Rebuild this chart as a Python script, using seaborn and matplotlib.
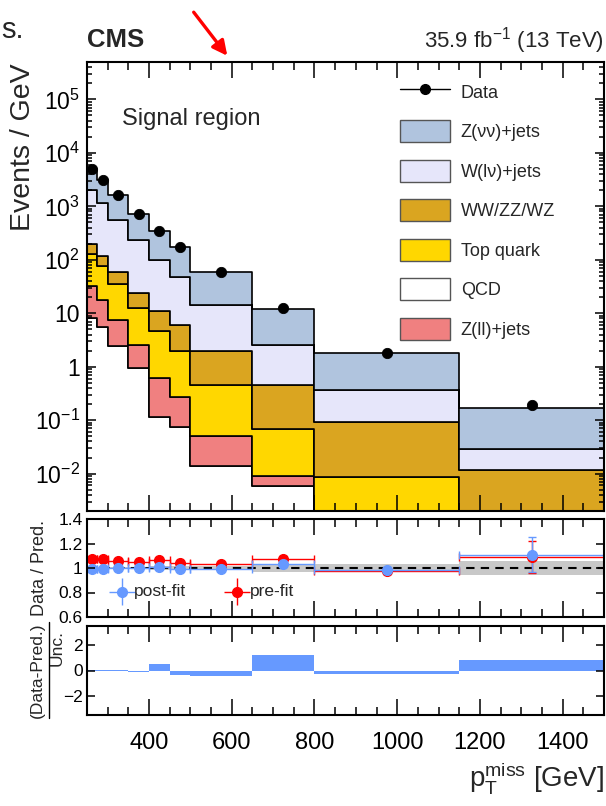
import numpy as np
import pandas as pd
import matplotlib
matplotlib.use("Agg")
import matplotlib.pyplot as plt
import seaborn as sns
from matplotlib.lines import Line2D
from matplotlib.patches import Patch
from matplotlib.transforms import blended_transform_factory as blend
from matplotlib.ticker import FixedLocator, FixedFormatter, MultipleLocator, NullLocator

# ── data ─────────────────────────────────────────────────────────────────────
edges = [250, 275, 300, 350, 400, 450, 500, 650, 800, 1150, 1500]

data_obs = [5070, 3160, 1660, 730, 340, 170, 58, 12.3, 1.8, 0.19]

# per-process yields (Events / GeV), stacked bottom -> top: QCD, Z(ll), top, VV, W, Z
qcd = [8.1, 5.5, 2.4, 0.95, 0.117, 0.075, 0.0138, 0.0059, 0.0008, 0.0003]
zll = [23.9, 12.5, 5.2, 1.55, 0.51, 0.195, 0.036, 0.0032, 0.0004, 0.0002]
top = [98, 59, 27.4, 10.3, 4.07, 1.68, 0.40, 0.059, 0.0075, 0.0004]
diboson = [65, 43, 24, 11.2, 6.3, 4.15, 1.52, 0.38, 0.082, 0.011]
wlnu = [1795, 1050, 506, 206, 89, 41.9, 12.5, 2.05, 0.28, 0.017]
znunu = [3010, 1980, 1085, 495, 240, 122, 43.5, 9.3, 1.41, 0.141]

# data / prediction
ratio_post = [0.995, 0.995, 0.998, 0.998, 1.005, 0.995, 0.995, 1.033, 0.983, 1.11]
ratio_post_err = [0.005, 0.006, 0.006, 0.008, 0.01, 0.012, 0.015, 0.025, 0.02, 0.14]
ratio_pre = [1.07, 1.075, 1.06, 1.05, 1.068, 1.04, 1.03, 1.07, 0.975, 1.09]
ratio_pre_err = [0.005, 0.006, 0.006, 0.008, 0.01, 0.012, 0.015, 0.025, 0.02, 0.13]
band_unc = [0.01, 0.01, 0.012, 0.012, 0.015, 0.015, 0.02, 0.035, 0.035, 0.06]

# (data - pred) / unc
pull = [0.05, 0.03, 0.02, -0.15, 0.5, -0.35, -0.45, 1.2, -0.3, 0.85]

processes = ["Z(νν)+jets", "W(lν)+jets", "WW/ZZ/WZ", "Top quark", "Z(ll)+jets", "QCD"]
colors = {"Z(νν)+jets": "#B0C4DE", "W(lν)+jets": "#E6E6FA", "WW/ZZ/WZ": "#DAA520",
          "Top quark": "#FFD700", "Z(ll)+jets": "#F08080", "QCD": "#FFFFFF"}
legend_order = ["Z(νν)+jets", "W(lν)+jets", "WW/ZZ/WZ", "Top quark", "QCD", "Z(ll)+jets"]

edges_a = np.array(edges, dtype=float)
centers = 0.5 * (edges_a[1:] + edges_a[:-1])
halfw = 0.5 * np.diff(edges_a)

yields = {"Z(νν)+jets": znunu, "W(lν)+jets": wlnu, "WW/ZZ/WZ": diboson,
          "Top quark": top, "Z(ll)+jets": zll, "QCD": qcd}
df = pd.concat([pd.DataFrame({"met": centers, "yield": v, "process": k})
                for k, v in yields.items()], ignore_index=True)

# ── style ─────────────────────────────────────────────────────────────────────
sns.set_style("ticks")
plt.rcParams["font.family"] = ["Liberation Sans", "DejaVu Sans"]
plt.rcParams["mathtext.fontset"] = "custom"
plt.rcParams["mathtext.rm"] = "Liberation Sans"
plt.rcParams["mathtext.it"] = "Liberation Sans:italic"
plt.rcParams["mathtext.bf"] = "Liberation Sans:bold"
plt.rcParams["mathtext.default"] = "regular"
plt.rcParams["axes.linewidth"] = 1.5
plt.rcParams["axes.edgecolor"] = "black"
plt.rcParams["xtick.color"] = "black"
plt.rcParams["ytick.color"] = "black"

W, H = 606, 806
fig = plt.figure(figsize=(W / 100, H / 100), dpi=100)

def px_axes(left, top_, right, bottom):
    return fig.add_axes([left / W, 1 - bottom / H, (right - left) / W, (bottom - top_) / H])

def fx(x):
    return x / W

def fy(y):
    return 1 - y / H

def inward_ticks(a, xs=(), ys=(), xlen=8, ylen=5, lw=1.1):
    # ROOT-style inward ticks on all four sides, lengths in pixels
    pos = a.get_position()
    fxl = xlen / (pos.height * H)
    fyl = ylen / (pos.width * W)
    tx = blend(a.transData, a.transAxes)
    ty = blend(a.transAxes, a.transData)
    kw = dict(color="black", lw=lw, zorder=6, clip_on=False)
    if len(xs):
        a.vlines(xs, 0, fxl, transform=tx, **kw)
        a.vlines(xs, 1 - fxl, 1, transform=tx, **kw)
    if len(ys):
        a.hlines(ys, 0, fyl, transform=ty, **kw)
        a.hlines(ys, 1 - fyl, 1, transform=ty, **kw)

ax = px_axes(87, 62, 604, 511)
ax_r = px_axes(87, 519, 604, 617)
ax_p = px_axes(87, 626, 604, 715)

# ── main panel ────────────────────────────────────────────────────────────────
ax.set_yscale("log")
sns.histplot(data=df, x="met", weights="yield", hue="process", hue_order=processes,
             bins=edges, multiple="stack", element="step", palette=colors,
             edgecolor="black", linewidth=1.2, alpha=1, legend=False, ax=ax)
sns.scatterplot(x=centers, y=data_obs, color="black", s=55, edgecolor="black",
                zorder=5, ax=ax)
ax.set_ylim(2e-3, 5e5)
ax.set_ylabel("")
ax.set_xlabel("")

handles = [Line2D([], [], color="black", marker="o", ms=7, lw=1)]
handles += [Patch(facecolor=colors[p], edgecolor="#555555", lw=1) for p in legend_order]
ax.legend(handles, ["Data"] + legend_order, loc="upper left",
          bbox_to_anchor=(0.6054, 0.9584), frameon=False, fontsize=13,
          handlelength=2.77, handleheight=1.5, labelspacing=0.97,
          handletextpad=0.6, borderpad=0, borderaxespad=0)

ylog_ticks = [1e-2, 1e-1, 1, 10, 1e2, 1e3, 1e4, 1e5]
ax.yaxis.set_major_locator(FixedLocator(ylog_ticks))
ax.yaxis.set_major_formatter(FixedFormatter(
    ["$10^{-2}$", "$10^{-1}$", "1", "10", "$10^{2}$", "$10^{3}$", "$10^{4}$", "$10^{5}$"]))
ax.yaxis.set_minor_locator(NullLocator())
ax.tick_params(axis="y", labelsize=16.5, pad=5)

# ── ratio panel ───────────────────────────────────────────────────────────────
band = np.array(band_unc)
ax_r.fill_between(edges_a, np.r_[1 - band, 1 - band[-1]], np.r_[1 + band, 1 + band[-1]],
                  step="post", color="#C8C8C8", lw=0)
ax_r.axhline(1, color="black", ls="--", lw=1.5, dashes=(4, 3))
ax_r.errorbar(centers, ratio_pre, xerr=halfw, yerr=ratio_pre_err, fmt="o", color="red",
              ms=7, capsize=3, lw=1)
ax_r.errorbar(centers, ratio_post, xerr=halfw, yerr=ratio_post_err, fmt="o",
              color="#6699FF", ms=7, capsize=3, lw=1)
ax_r.set_ylim(0.6, 1.4)
ax_r.set_yticks([0.6, 0.8, 1.0, 1.2, 1.4])
ax_r.set_yticklabels(["0.6", "0.8", "1", "1.2", "1.4"])
ax_r.yaxis.set_minor_locator(NullLocator())
ax_r.tick_params(axis="y", labelsize=12.5, pad=3)

# in-panel legend for the ratio markers
ax_r.errorbar([0.067], [0.26], xerr=[0.025], yerr=[0.14], transform=ax_r.transAxes,
              fmt="o", color="#6699FF", ms=7, lw=1)
ax_r.text(0.091, 0.26, "post-fit", transform=ax_r.transAxes, fontsize=12.5, va="center")
ax_r.errorbar([0.290], [0.26], xerr=[0.025], yerr=[0.14], transform=ax_r.transAxes,
              fmt="o", color="red", ms=7, lw=1)
ax_r.text(0.315, 0.26, "pre-fit", transform=ax_r.transAxes, fontsize=12.5, va="center")

# ── pull panel ────────────────────────────────────────────────────────────────
ax_p.stairs(pull, edges_a, baseline=0, fill=True, color="#6699FF", lw=0)
ax_p.set_ylim(-3.5, 3.5)
ax_p.set_yticks([-2, 0, 2])
ax_p.set_yticklabels(["\u22122", "0", "2"])
ax_p.yaxis.set_minor_locator(NullLocator())
ax_p.tick_params(axis="y", labelsize=12.5, pad=3)

# ── shared x axes / ticks ─────────────────────────────────────────────────────
x_major = np.arange(400, 1500, 200)
x_minor = np.setdiff1d(np.arange(300, 1500, 50), x_major)
for a in (ax, ax_r, ax_p):
    a.set_xlim(250, 1500)
    a.xaxis.set_major_locator(FixedLocator(x_major))
    a.xaxis.set_minor_locator(NullLocator())
    a.tick_params(which="both", length=0)
    for s in a.spines.values():
        s.set_linewidth(1.5)
        s.set_color("black")
        s.set_zorder(10)
    inward_ticks(a, xs=x_major, xlen=16)
    inward_ticks(a, xs=x_minor, xlen=8)
ax.tick_params(axis="x", labelbottom=False)
ax_r.tick_params(axis="x", labelbottom=False)
ax_p.tick_params(axis="x", labelsize=17, pad=12)

y_minor_log = [m * 10.0 ** e for e in range(-3, 6) for m in range(2, 10)]
y_minor_log = [v for v in y_minor_log if 2e-3 < v < 5e5]
inward_ticks(ax, ys=ylog_ticks, ylen=9)
inward_ticks(ax, ys=y_minor_log, ylen=5)
inward_ticks(ax_r, ys=[0.8, 1.0, 1.2], ylen=8)
inward_ticks(ax_p, ys=[-2, 0, 2], ylen=8)

# ── text ──────────────────────────────────────────────────────────────────────
fig.text(fx(23), fy(63), "Events / GeV", rotation=90, ha="center", va="top", fontsize=20.5)
fig.text(fx(40), fy(568), "Data / Pred.", rotation=90, ha="center", va="center", fontsize=13)
fig.text(fx(37), fy(670), "(Data-Pred.)", rotation=90, ha="center", va="center", fontsize=12.5)
fig.text(fx(57), fy(648), "Unc.", rotation=90, ha="center", va="center", fontsize=12.5)
# fraction bar of the pull label, drawn in figure coords
ax_p.plot([fx(48.5), fx(48.5)], [fy(718), fy(622)], color="black", lw=1,
          transform=fig.transFigure, clip_on=False)
fig.text(fx(604), fy(787), r"$p_{T}^{miss}$ [GeV]", ha="right", va="baseline", fontsize=20)

fig.text(fx(87), fy(47), "CMS", fontweight="bold", fontsize=18.5, va="baseline")
fig.text(fx(604), fy(47), r"35.9 fb$^{-1}$ (13 TeV)", ha="right", va="baseline", fontsize=16)
fig.text(fx(122), fy(119), "Signal region", va="center", fontsize=17)
fig.text(fx(1), fy(38), "s.", va="baseline", fontsize=21)
ax.annotate("", xy=(fx(229), fy(58)), xycoords="figure fraction",
            xytext=(fx(192), fy(10)), textcoords="figure fraction",
            arrowprops=dict(arrowstyle="-|>", color="red", lw=2.4, mutation_scale=22),
            annotation_clip=False)

fig.savefig("out.png", dpi=100)
